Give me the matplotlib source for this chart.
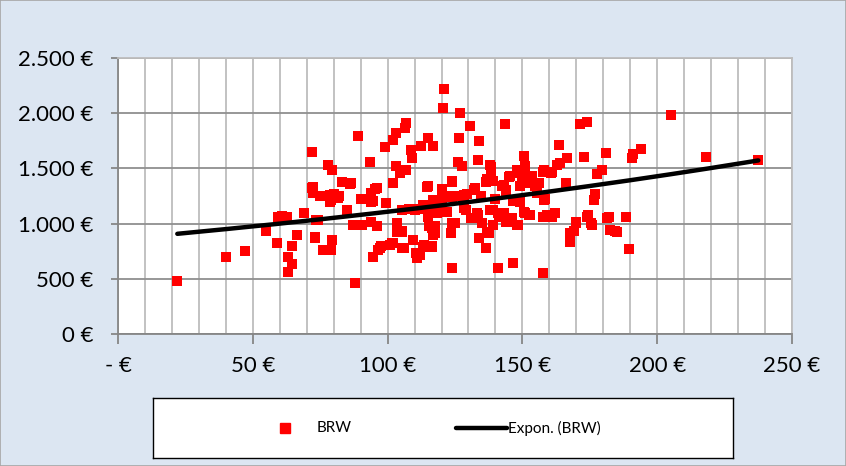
"""Scatter of BRW prices with an exponential trend line, saved as out.png."""

import matplotlib
matplotlib.use("Agg")
import matplotlib.pyplot as plt
import numpy as np
from matplotlib.patches import Rectangle
from matplotlib.ticker import FuncFormatter, MultipleLocator

BG = "#dce6f2"
RED = "#ff0000"
GRID_H = "#8f8f8f"
GRID_V = "#bdbdbd"
AXIS = "#868686"

plt.rcParams["font.family"] = ["Lato", "DejaVu Sans"]

BRW_X = [
    22, 40, 47, 55, 59, 59.5, 61, 62, 63, 63, 64.5, 64.5, 66.5, 69, 72, 72, 72.5, 73, 74, 75,
    76, 78, 79, 79.5, 79.5, 79, 80, 82, 83, 85, 86, 87, 88, 89, 90, 90, 93.5, 94, 94.5, 94.5,
    95.5, 96, 97, 97.5, 99, 99.5, 101, 102, 102, 103, 103, 103.5, 104.5, 105.5, 106, 106.5, 107, 107, 108, 108.5,
    109, 109.5, 110.5, 111, 111.5, 112, 112.5, 113.5, 115, 115, 115.5, 115.5, 116.5, 117, 117, 117, 117.5, 118.5, 119.5, 120,
    120, 120.5, 121, 123.5, 123.5, 124, 124, 124.5, 125.5, 126, 126.5, 127, 127.5, 128, 129, 129.5, 130.5, 131.5, 132.5, 133,
    133.5, 134, 134, 134.5, 135, 136.5, 137, 137.5, 138, 138.5, 139, 139, 139, 140, 141, 141, 142, 142.5, 143.5, 144,
    144.5, 145.5, 146.5, 146.5, 148, 148.5, 149, 149, 150, 150.5, 151, 151, 152, 153, 153.5, 154.5, 155.5, 156, 157.5, 158,
    158.5, 159, 160.5, 161, 162, 163.5, 164, 166, 166.5, 167.5, 167.5, 169, 170, 171.5, 173, 174, 174.5, 176, 176.5, 177,
    177.5, 179.5, 181, 182, 182.5, 184.5, 188.5, 189.5, 190.5, 191, 194, 205, 218, 237.5,
    # denser middle cluster
    105.5, 110, 113, 115.5, 119.5, 117, 115, 122, 128.5, 133.5, 131, 138, 141.5, 143, 144, 146,
    105.5, 124, 125, 137, 120, 124, 128.5, 132, 148, 150.5, 151.5, 152.5, 155.5, 157.5, 161, 163,
    149, 158, 150.5, 152.5, 157.5, 160, 145.5, 148, 170, 174, 175.5, 181.5, 185, 145, 143, 144,
    136.5, 138.5, 124, 114.5, 113, 116.5, 102, 105.5, 116.5, 117.5,
    72.5, 78.5, 78.5, 81.5, 86.5, 62.5, 73.5, 90.5, 94, 73, 76.5, 101.5, 96.5, 94, 96, 103.5,
]
BRW_Y = [
    480, 700, 750, 930, 825, 1060, 1065, 1060, 700, 560, 630, 795, 900, 1100, 1650, 1320, 1280, 875, 1030, 1250,
    765, 1535, 765, 1485, 855, 1215, 1265, 1250, 1375, 1120, 1355, 985, 465, 1795, 1220, 990, 1560, 1280, 695, 1205,
    1310, 975, 780, 800, 1690, 1190, 810, 1370, 1760, 1820, 1520, 1005, 1460, 930, 780, 1870, 1915, 1490, 1130, 1670,
    1595, 855, 735, 690, 1130, 720, 1700, 810, 1340, 1775, 1130, 975, 795, 900, 1210, 1700, 975, 1095, 1155, 1310,
    1220, 2045, 2215, 1250, 915, 1385, 595, 1005, 1250, 1555, 1775, 2000, 1520, 1225, 1125, 1265, 1880, 1050, 1325, 1095,
    1580, 1745, 870, 1250, 1005, 780, 1400, 915, 1535, 1460, 1125, 990, 1385, 1220, 600, 1095, 1065, 1340, 1900, 1280,
    1020, 1430, 645, 1205, 1490, 990, 1205, 1340, 1430, 1610, 1520, 1095, 1370, 1080, 1430, 1340, 1280, 1370, 553, 1490,
    1220, 1075, 1460, 1060, 1095, 1715, 1550, 1370, 1595, 915, 830, 930, 1010, 1905, 1605, 1920, 1075, 990, 1215, 1270,
    1445, 1485, 1640, 1060, 945, 930, 1060, 770, 1590, 1630, 1675, 1980, 1600, 1572,
    1125, 1125, 1170, 1105, 1125, 1140, 1060, 1105, 1140, 1080, 1050, 1125, 1060, 1095, 1015, 1050,
    925, 1005, 1005, 925, 1235, 1240, 1260, 1305, 1460, 1470, 1425, 1370, 1370, 1470, 1470, 1530,
    1200, 1215, 1105, 1080, 1060, 1060, 1015, 990, 1005, 1060, 1005, 1050, 925, 1425, 1350, 1305,
    1380, 1510, 1380, 1335, 790, 790, 825, 780, 960, 915,
    1335, 1260, 1200, 1235, 1370, 1060, 1035, 990, 1015, 870, 760, 825, 760, 1195, 1325, 925,
]

# exponential trend y = A * exp(B * x)
TREND_A = 858.0
TREND_B = 0.00255

X_TICKS = [0, 50, 100, 150, 200, 250]
Y_TICKS = [0, 500, 1000, 1500, 2000, 2500]


def euro(v, _pos=None):
    if v == 0:
        return "0 €"
    return f"{int(v):,} €".replace(",", ".")


def euro_x(v, _pos=None):
    if v == 0:
        return "- €"
    return f"{int(v):,} €".replace(",", ".")


W, H = 846, 466
fig = plt.figure(figsize=(W / 100, H / 100), dpi=100, facecolor=BG)
fig.patches.append(Rectangle((0, 0), 1, 1, transform=fig.transFigure, fill=False,
                             edgecolor="#a6a6a6", lw=1.2))

ax = fig.add_axes([118 / W, 1 - 334 / H, (792 - 118) / W, (334 - 58) / H])
ax.set_facecolor("white")

ax.scatter(BRW_X, BRW_Y, marker="s", s=58, color=RED, linewidths=0, zorder=3)

tx = np.linspace(min(BRW_X), max(BRW_X), 200)
ax.plot(tx, TREND_A * np.exp(TREND_B * tx), color="black", lw=3.2,
        solid_capstyle="round", zorder=4)

ax.set_xlim(0, 250)
ax.set_ylim(0, 2500)
ax.set_xticks(X_TICKS)
ax.set_yticks(Y_TICKS)
ax.xaxis.set_minor_locator(MultipleLocator(10))
ax.xaxis.set_major_formatter(FuncFormatter(euro_x))
ax.yaxis.set_major_formatter(FuncFormatter(euro))

ax.grid(axis="y", which="major", color=GRID_H, lw=1.3, zorder=0)
ax.grid(axis="x", which="both", color=GRID_V, lw=1.3, zorder=0)
ax.set_axisbelow(True)

ax.tick_params(axis="x", which="major", direction="out", length=7, width=1.3,
               color=AXIS, labelsize=16, pad=9)
ax.tick_params(axis="x", which="minor", length=0)
ax.tick_params(axis="y", direction="out", length=5, width=1.3, color=AXIS,
               labelsize=16, pad=13)

for side in ("left", "bottom"):
    ax.spines[side].set_color(AXIS)
    ax.spines[side].set_linewidth(1.3)
for side in ("top", "right"):
    ax.spines[side].set_color(GRID_V)
    ax.spines[side].set_linewidth(1.3)

# legend box, drawn by hand to match the original spacing
lax = fig.add_axes([153 / W, 1 - 458 / H, 580 / W, 60 / H])
lax.set_xlim(0, 580)
lax.set_ylim(0, 60)
lax.set_xticks([])
lax.set_yticks([])
lax.set_facecolor("white")
for s in lax.spines.values():
    s.set_color("black")
    s.set_linewidth(1)
lax.plot([132], [30], marker="s", ms=7, color=RED, mec=RED, ls="none")
lax.text(164, 30, "BRW", fontsize=11, va="center", ha="left")
lax.plot([303, 354], [30, 30], color="black", lw=3.2, solid_capstyle="round")
lax.text(355, 30, "Expon. (BRW)", fontsize=11, va="center", ha="left")

fig.savefig("out.png", dpi=100, facecolor=BG)
